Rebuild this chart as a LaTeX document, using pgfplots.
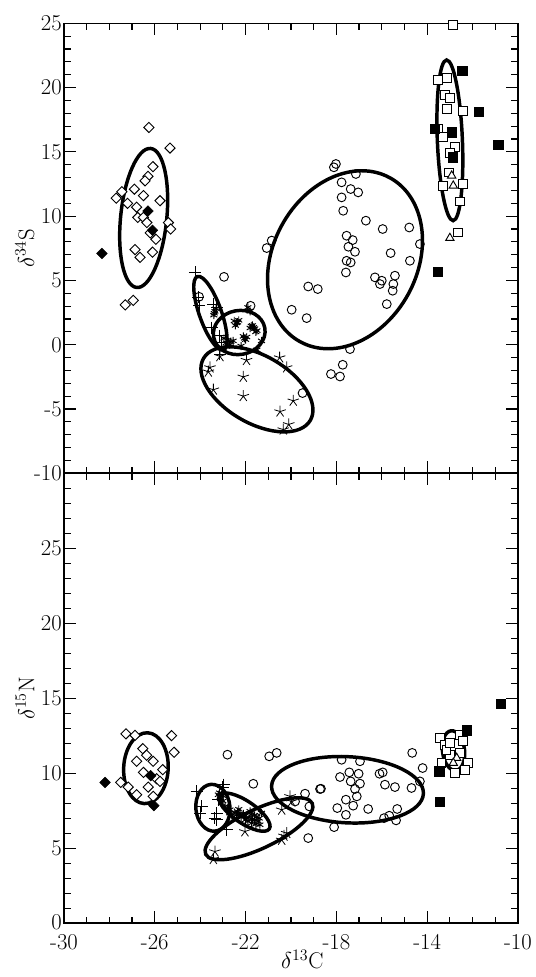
\documentclass[border=0pt]{standalone}
\usepackage{pgfplots}
\pgfplotsset{compat=1.18}
\tikzset{ell/.style={black, line width=2.6pt}}
\begin{document}
\begin{tikzpicture}
\useasboundingbox (-48pt,-40.3pt) rectangle (354pt,692.5pt);
\pgfplotsset{
 panel/.style={width=340.5pt, height=337.5pt, scale only axis,
   xmin=-30, xmax=-10, xtick={-30,-26,-22,-18,-14,-10},
   minor x tick num=3, minor y tick num=4, tick align=inside,
   major tick length=9pt, minor tick length=5pt,
   every tick/.style={black, line width=0.9pt},
   axis line style={line width=1.2pt},
   tick label style={font=\fontsize{17}{20}\selectfont},
   yticklabel style={inner xsep=1.5pt, inner ysep=0pt},
   xticklabel style={inner ysep=1pt, yshift=-7.3pt},
   label style={font=\fontsize{17}{20}\selectfont},
   clip=false},
 circ/.style={black, only marks, mark=o, mark size=3.3pt, mark options={line width=0.7pt}},
 dia/.style={black, only marks, mark=square*, mark size=2.7pt, mark options={rotate=45, line width=0.7pt, fill=white, draw=black}},
 fdia/.style={black, only marks, mark=square*, mark size=2.8pt, mark options={rotate=45, fill=black}},
 sq/.style={black, only marks, mark=square*, mark size=3.3pt, mark options={line width=0.7pt, fill=white, draw=black}},
 fsq/.style={black, only marks, mark=square*, mark size=3.5pt, mark options={fill=black}},
 tri/.style={black, only marks, mark=triangle*, mark size=3.6pt, mark options={line width=0.7pt, fill=white, draw=black}},
 pls/.style={black, only marks, mark=+, mark size=4.5pt, mark options={line width=0.7pt}},
 str/.style={black, only marks, mark=star, mark size=4.5pt, mark options={line width=0.6pt}},
 ast/.style={black, only marks, mark=asterisk, mark size=3pt, mark options={line width=0.7pt}},
}
% ---------------- bottom panel: d15N ----------------
\begin{axis}[panel, at={(0,0)}, anchor=south west,
  ymin=0, ymax=30, ytick={0,5,...,30}, yticklabels={\raisebox{2.5pt}{0},5,10,15,20,25,},
  xticklabels={-30,-26,-22,-18,-14,-10},
  xlabel={$\delta^{13}$C}, ylabel={$\delta^{15}$N},
  xlabel style={at={(axis description cs:0.525,-0.08)}, anchor=center},
  ylabel style={at={(axis description cs:-0.086,0.5)}, anchor=center}]
\addplot[dia] coordinates {(-27.27,12.63) (-26.87,12.53) (-25.26,12.51) (-25.15,11.4) (-26.53,11.64) (-26.36,11.2) (-26.8,10.8) (-26.07,10.8) (-25.65,10.24) (-26.5,10.06) (-25.92,9.64) (-25.77,9.46) (-27.5,9.39) (-27.17,9.08) (-26.29,9.08) (-26.8,8.57) (-26.07,8.46)};
\addplot[fdia] coordinates {(-26.18,9.84) (-26.04,7.84) (-28.19,9.39)};
\addplot[circ] coordinates {(-22.8,11.24) (-20.96,11.13) (-20.63,11.36) (-21.66,9.3) (-19.38,8.64) (-18.72,8.95) (-19.24,5.68) (-19.82,8.12) (-18.68,8.97) (-17.84,9.75) (-17.43,10.06) (-17.02,9.97) (-17.37,9.46) (-16.96,9.31) (-17.18,8.95) (-17.1,8.46) (-17.58,8.24) (-17.26,7.84) (-17.96,7.68) (-17.58,7.23) (-18.1,6.41) (-17.77,10.9) (-16.96,10.8) (-16.1,9.97) (-15.96,10.06) (-15.86,9.24) (-15.42,9.08) (-14.69,9.02) (-14.66,11.36) (-14.2,10.35) (-14.32,9.46) (-16.6,7.62) (-15.9,7.01) (-15.67,7.17) (-15.37,6.86) (-15.32,7.62) (-19.19,7.79)};
\addplot[pls] coordinates {(-23.01,9.08) (-24.16,8.79) (-23.94,7.79) (-23.28,7.35) (-23.35,7.01) (-24.0,7.35) (-22.84,6.23) (-23.2,8.24) (-22.97,9.24) (-23.27,6.9)};
\addplot[str] coordinates {(-23.35,4.78) (-23.42,4.28) (-22.03,6.12) (-20.41,7.57) (-20.19,6.01) (-20.41,5.56) (-20.04,8.46) (-19.97,8.12) (-20.31,5.83)};
\addplot[ast] coordinates {(-23.2,8.57) (-23.1,8.3) (-23.06,8.02) (-22.9,7.8) (-22.69,7.57) (-22.5,7.4) (-22.4,7.23) (-22.2,7.1) (-21.95,7.01) (-21.8,7.46) (-21.73,6.68) (-21.6,6.9) (-21.37,6.57) (-21.3,7.35) (-21.5,7.1) (-22.1,7.3) (-21.9,6.8) (-22.3,7.6) (-23.0,8.5) (-23.15,8.7) (-22.6,7.2) (-21.6,7.2) (-23.12,8.45) (-23.0,8.15) (-22.8,7.65) (-22.35,7.45) (-22.05,7.15) (-21.85,7.05) (-21.7,6.95) (-21.45,6.8) (-21.55,6.6) (-21.4,7.0) (-22.0,6.9) (-21.75,7.25) (-22.25,7.3) (-22.7,7.35)};
\addplot[sq] coordinates {(-13.44,12.36) (-13.22,11.91) (-12.56,12.58) (-12.41,12.13) (-13.0,11.24) (-12.56,11.36) (-13.37,10.69) (-12.19,10.69) (-12.78,10.02) (-12.33,10.24) (-13.15,11.58) (-13.0,12.02)};
\addplot[tri] coordinates {(-12.7,11.02) (-12.85,10.69)};
\addplot[fsq] coordinates {(-12.26,12.87) (-13.47,10.13) (-13.44,8.12) (-10.76,14.65)};
\draw[ell, rotate around={87.2:(axis cs:-26.39,10.34)}] (axis cs:-26.39,10.34) ellipse [x radius=26.6pt, y radius=16.7pt];
\draw[ell, rotate around={95:(axis cs:-23.44,7.70)}] (axis cs:-23.44,7.70) ellipse [x radius=17.6pt, y radius=12.8pt];
\draw[ell, rotate around={-34:(axis cs:-22.05,7.41)}] (axis cs:-22.05,7.41) ellipse [x radius=22.5pt, y radius=8.3pt];
\draw[ell, rotate around={25.6:(axis cs:-21.41,6.3)}] (axis cs:-21.41,6.3) ellipse [x radius=44.3pt, y radius=14.6pt];
\draw[ell, rotate around={-3:(axis cs:-17.51,8.9)}] (axis cs:-17.51,8.9) ellipse [x radius=57pt, y radius=24.8pt];
\draw[ell, rotate around={97:(axis cs:-12.84,11.51)}] (axis cs:-12.84,11.51) ellipse [x radius=15pt, y radius=8.3pt];
\end{axis}
% ---------------- top panel: d34S ----------------
\begin{axis}[panel, at={(0,337.5pt)}, anchor=south west,
  ymin=-10, ymax=25, ytick={-10,-5,...,25}, yticklabels={-10,-5,0,5,10,15,20,25},
  xticklabels={},
  ylabel={$\delta^{34}$S},
  ylabel style={at={(axis description cs:-0.086,0.5)}, anchor=center}]
\addplot[dia] coordinates {(-26.26,16.9) (-25.33,15.3) (-26.08,13.85) (-26.3,13.1) (-26.43,12.75) (-26.9,12.1) (-27.45,11.9) (-27.7,11.4) (-26.5,11.6) (-25.77,11.2) (-27.2,11.0) (-26.8,10.7) (-26.75,9.9) (-26.5,9.9) (-25.4,9.5) (-25.3,9.0) (-26.35,9.5) (-25.95,8.2) (-26.2,8.7) (-26.87,7.4) (-26.65,6.8) (-26.1,7.2) (-27.3,3.1) (-26.95,3.45)};
\addplot[fdia] coordinates {(-26.3,10.4) (-26.1,8.9) (-28.33,7.1)};
\addplot[circ] coordinates {(-24.05,3.73) (-22.95,5.28) (-21.78,3.03) (-19.49,-3.76) (-18.02,14.06) (-18.11,13.8) (-17.14,13.28) (-17.77,12.63) (-17.37,12.11) (-17.04,11.85) (-17.77,11.46) (-17.7,10.42) (-16.7,9.65) (-15.96,9.0) (-14.79,9.12) (-17.55,8.48) (-17.28,8.14) (-14.32,7.83) (-20.85,8.1) (-21.07,7.52) (-17.47,7.62) (-17.18,7.23) (-17.55,6.53) (-17.37,6.4) (-17.58,5.62) (-15.61,7.13) (-14.76,6.53) (-16.3,5.24) (-16.0,4.98) (-16.08,4.72) (-15.42,5.37) (-15.49,4.72) (-15.52,4.2) (-15.78,3.16) (-19.24,4.53) (-18.82,4.33) (-19.97,2.72) (-19.31,2.07) (-17.4,-0.34) (-17.72,-1.56) (-18.24,-2.28) (-17.84,-2.47)};
\addplot[sq] coordinates {(-12.88,24.85) (-13.51,20.6) (-13.14,20.75) (-13.21,19.45) (-13.0,19.2) (-13.14,18.34) (-12.41,18.2) (-13.51,16.78) (-13.32,16.13) (-12.78,15.4) (-13.0,14.9) (-13.03,13.4) (-13.29,12.37) (-12.41,12.5) (-12.55,11.15) (-12.63,8.73)};
\addplot[tri] coordinates {(-12.92,13.15) (-12.85,12.37) (-13.0,8.3)};
\addplot[fsq] coordinates {(-12.45,21.3) (-11.74,18.13) (-10.87,15.56) (-12.92,16.52) (-12.88,14.57) (-13.66,16.78) (-13.54,5.7)};
\addplot[pls] coordinates {(-24.23,5.62) (-24.08,3.68) (-24.04,3.03) (-23.42,3.16) (-23.27,2.9) (-23.5,1.34) (-23.13,0.7) (-23.05,0.18) (-23.13,-0.73)};
\addplot[str] coordinates {(-23.13,-0.9) (-23.57,-1.77) (-23.64,-2.1) (-23.42,-3.5) (-22.1,-2.5) (-22.1,-4.0) (-21.96,-1.2) (-20.5,-1.0) (-20.19,-1.77) (-19.9,-4.36) (-20.48,-5.2) (-20.34,-6.6) (-20.1,-6.2)};
\addplot[ast] coordinates {(-22.4,1.7) (-22.3,1.9) (-22.45,1.5) (-22.35,1.75) (-22.5,1.85) (-21.8,1.3) (-21.7,1.5) (-21.5,1.1) (-21.6,1.25) (-21.75,1.45) (-21.55,1.0) (-21.65,1.35) (-22.05,0.5) (-22.1,0.65) (-22.0,0.4) (-21.95,0.6) (-22.55,0.3) (-22.85,0.15) (-22.7,0.0) (-22.65,0.25) (-22.8,0.35) (-23.35,2.6) (-23.4,2.3) (-23.3,2.8) (-23.38,2.45) (-21.8,2.6) (-21.9,2.9) (-21.5,-0.4) (-21.3,0.3) (-22.2,-0.1) (-22.95,0.5)};
\draw[ell, rotate around={84.25:(axis cs:-26.49,9.86)}] (axis cs:-26.49,9.86) ellipse [x radius=52.4pt, y radius=17.3pt];
\draw[ell, rotate around={61.3:(axis cs:-17.62,6.61)}] (axis cs:-17.62,6.61) ellipse [x radius=70.1pt, y radius=54pt];
\draw[ell, rotate around={92.35:(axis cs:-13.0,15.9)}] (axis cs:-13.0,15.9) ellipse [x radius=60.3pt, y radius=9.4pt];
\draw[ell, rotate around={109.5:(axis cs:-23.55,2.45)}] (axis cs:-23.55,2.45) ellipse [x radius=29.2pt, y radius=8.3pt];
\draw[ell, rotate around={10:(axis cs:-22.28,0.95)}] (axis cs:-22.28,0.95) ellipse [x radius=19.5pt, y radius=16.5pt];
\draw[ell, rotate around={-30.1:(axis cs:-21.5,-3.47)}] (axis cs:-21.5,-3.47) ellipse [x radius=46.3pt, y radius=25.3pt];
\end{axis}
\end{tikzpicture}
\end{document}
